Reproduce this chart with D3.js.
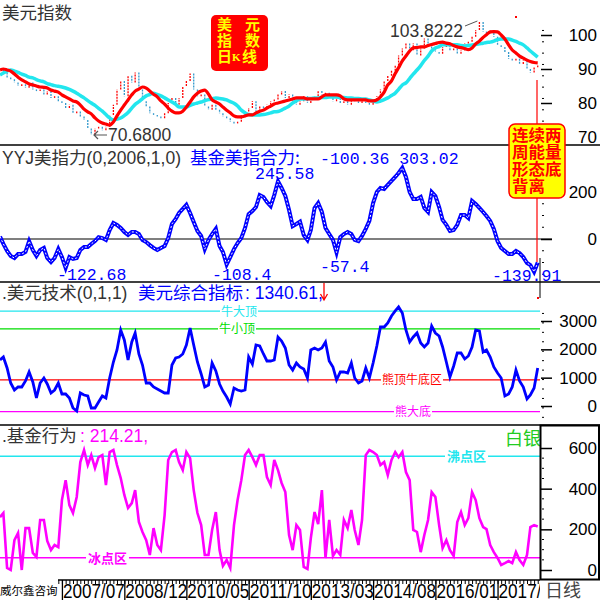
<!DOCTYPE html>
<html><head><meta charset="utf-8">
<script src="https://cdn.jsdelivr.net/npm/d3@7/dist/d3.min.js"></script>
<style>body{margin:0;background:#fff}svg{display:block}</style>
</head><body>
<svg id="c" width="600" height="600"></svg>
<script>
// ---------- DATA (monthly, starting Feb 2006) ----------
const firstMonth = "2006-02";
const dxyClose = [90.0,89.0,87.5,87.0,86.0,85.0,85.5,84.5,86.0,84.0,
83.5,84.0,82.5,83.5,81.5,82.0,80.5,80.0,78.5,79.5,
77.0,77.5,76.0,75.0,72.5,70.68,72.5,73.0,72.0,73.0,
76.5,79.5,84.0,86.5,82.0,88.0,86.0,89.0,84.0,80.5,
79.0,77.0,76.5,76.0,75.5,77.0,80.0,81.5,79.5,81.5,
85.0,86.5,88.7,84.0,82.0,82.5,79.0,78.0,79.5,78.0,
77.0,76.0,75.5,74.5,74.0,74.5,76.5,77.5,78.5,80.5,
77.5,79.0,78.5,79.5,80.5,81.0,82.5,83.5,81.5,82.5,
80.5,79.5,80.5,82.0,80.0,81.0,82.0,83.5,82.5,83.0,
81.5,80.5,81.5,80.0,80.5,79.5,81.5,80.5,80.0,80.5,
80.0,79.5,80.0,82.0,84.0,86.5,88.0,89.5,91.0,94.0,
96.0,97.5,95.5,97.5,94.0,96.0,99.0,97.5,96.0,95.0,
94.5,96.5,97.0,95.5,96.0,94.5,95.5,97.5,98.0,99.5,
101.5,103.8222,101.0,100.5,101.5,99.5,97.0,96.5,95.0,93.0,
92.5,93.0,91.5,92.5,90.0,89.0,90.5,91.0];
const dxyMaFast = [89.7,90.0,89.7,89.4,88.5,87.6,86.8,86.2,85.6,85.3,
85.0,84.7,84.6,84.4,83.8,83.5,83.2,82.4,81.8,81.2,
80.6,80.3,79.4,78.2,77.4,76.8,75.6,74.7,74.1,73.8,
73.5,74.4,76.2,77.9,79.4,80.9,82.4,83.5,84.1,84.7,
84.4,83.5,82.6,81.8,80.6,79.7,78.5,77.6,77.1,77.1,
77.6,78.8,80.3,81.8,82.9,83.5,83.8,82.6,80.9,80.3,
79.7,78.8,77.9,77.1,76.2,75.9,75.9,76.2,76.5,76.5,
77.1,77.6,77.9,78.5,79.1,79.7,80.0,80.3,80.6,80.9,
81.2,81.5,81.5,81.5,81.2,81.2,81.2,81.2,81.8,82.4,
82.4,82.4,82.4,82.1,81.2,80.9,80.9,80.9,80.9,80.9,
80.9,80.6,80.6,80.9,81.8,83.2,85.3,86.5,88.7,90.4,
92.4,93.8,95.3,96.2,96.3,96.5,96.5,96.9,97.2,97.5,
97.8,97.9,97.6,97.4,96.9,96.5,96.3,96.0,95.7,96.2,
97.4,98.2,99.3,100.1,100.9,101.0,100.9,100.0,98.8,97.1,
95.6,94.7,93.8,93.2,92.6,92.2,91.9,91.8];
const dxyMaSlow = [88.2,88.8,89.4,89.7,89.4,89.0,88.5,88.1,87.6,87.4,
86.9,86.5,86.2,85.7,85.4,85.1,84.9,84.7,84.4,84.0,
83.5,82.9,82.2,81.5,80.7,80.0,79.3,78.4,77.6,76.6,
75.6,75.0,75.3,75.6,76.3,77.2,78.5,79.6,80.4,81.3,
82.1,82.5,82.9,82.5,82.1,81.5,80.9,80.3,79.6,78.8,
78.8,78.8,79.3,79.7,80.0,80.3,80.7,81.0,81.2,81.5,
81.3,81.2,80.9,80.4,79.9,79.1,77.9,77.1,76.6,76.5,
76.5,76.5,76.6,76.8,77.1,77.4,77.5,77.9,78.5,79.1,
80.0,80.6,81.2,81.2,81.3,81.3,81.5,81.5,81.6,81.6,
81.8,81.8,81.8,81.6,81.6,81.5,81.5,81.3,81.3,81.2,
81.2,80.9,80.6,80.3,80.6,81.0,81.5,82.2,82.9,84.0,
85.3,85.9,87.2,88.5,89.7,91.0,92.5,93.8,95.3,96.2,
96.6,97.1,97.1,97.1,97.1,97.1,96.9,96.8,96.9,97.1,
97.2,97.4,97.6,97.8,97.9,98.2,98.7,98.8,98.8,98.8,
98.5,98.1,97.6,97.1,96.2,95.3,94.4,93.5];
const yyjForce = [10,-21,-51,-72,-81,-64,-64,-55,-9,-47,
-72,-47,-38,-81,-98,-81,-43,-77,-122.68,-77,
-85,-81,-47,-34,-34,-21,-9,8,4,-4,
38,68,60,47,30,17,30,30,21,-4,
-13,-26,-38,-47,-38,-30,4,64,85,111,
128,145,111,72,34,13,-43,-4,21,43,
-30,-55,-108.4,-77,-43,-17,4,47,106,119,
136,187,179,157,140,187,245.58,217,183,123,
55,64,74,17,-4,38,132,153,115,47,
21,-4,-57.4,8,21,30,21,-4,-9,13,
43,77,153,200,217,213,230,247,264,281,
303.02,264,200,170,170,179,132,115,200,183,
136,81,60,34,38,60,102,102,89,162,
149,132,115,98,77,43,-9,-38,-51,-64,
-64,-51,-60,-77,-102,-111,-139.91,-100.36];
const usdComposite = [1624,1730,1341,812,565,671,671,883,1200,847,
282,812,988,777,459,565,812,424,424,282,
-71,-177,459,388,353,-71,-71,141,353,282,
988,1553,1977,2683,2330,1624,2259,2577,1836,1447,
812,812,671,600,530,459,459,1447,1694,1730,
1836,2153,2753,2153,1553,1130,671,741,1518,1236,
777,530,318,71,635,565,530,565,1730,1483,
2153,2118,1836,1589,1589,1624,2436,2295,2047,1447,
1271,1518,1377,1306,988,1977,2047,1977,2047,2259,
1589,1377,918,1200,1200,1165,1518,988,812,883,
1341,988,1518,2118,2789,2789,2930,3177,3354,3495,
3283,2683,2259,2436,2577,2224,2083,2224,2824,2577,
2471,2083,1553,1024,1412,1871,1871,1659,1765,2083,
2683,2648,1906,1977,1730,1377,1165,988,353,424,
671,1271,883,671,247,388,635,1340.61];
const fundBehavior = [260,280,10,0,147,182,0,206,206,84,
64,246,246,143,98,123,113,344,442,319,
280,359,531,590,516,565,501,555,565,418,
580,590,516,452,369,305,329,393,236,187,
147,74,206,123,98,270,541,580,590,531,
491,580,550,393,280,221,74,74,197,285,
98,20,49,10,221,344,442,565,590,555,
516,565,565,457,418,541,491,428,383,172,
98,221,197,15,5,157,285,226,393,59,
246,69,98,74,246,206,295,197,123,246,
565,590,580,565,516,531,467,541,580,555,
580,482,442,197,187,88,172,246,383,359,
221,108,147,98,69,236,285,221,255,383,
344,255,211,201,123,88,59,25,34,44,
34,88,49,25,74,211,221,214.21];

const xTickLabels = ["2007/07","2008/12","2010/05","2011/10","2013/03","2014/08","2016/01","2017/06"];
const dxyTicks = [70,80,90,100];
const forceTicks = [0,200];
const compositeTicks = [0,1000,2000,3000];
const fundTicks = [0,200,400,600];
const compositeLevelNames = ["牛大顶","牛小顶","熊顶牛底区","熊大底"];
const compositeLevelValues = [3350,2720,920,-200];
const fundLevelNames = ["沸点区","冰点区"];
const fundLevelValues = [560,60];

// ---------- SETUP ----------
const svg = d3.select('#c');
const W = 540;
const LAT = "'Liberation Sans','Noto Sans CJK SC',sans-serif";
const CJK = "'Noto Sans CJK SC','Liberation Sans',sans-serif";
const MONO = "'Liberation Mono','DejaVu Sans Mono',monospace";
const C = {red:'#ff0000', cyan:'#22e6ee', blue:'#0000ff', magenta:'#ff00ff', green:'#00cc00', candleDown:'#3399cc', text:'#333'};

const parseMonth = d3.timeParse("%Y-%m");
const t0 = parseMonth(firstMonth);
const dates = dxyClose.map((_, i) => d3.timeMonth.offset(t0, i));
const x = d3.scaleTime().domain([t0, new Date(2018,4,20)]).range([0, W]);

const y1 = d3.scaleLinear().domain([70,100]).range([137,35]);
const y2 = d3.scaleLinear().domain([0,200]).range([239,192]);
const y3 = d3.scaleLinear().domain([0,3000]).range([406,321]);
const y4 = d3.scaleLinear().domain([0,600]).range([570,448]);

const panels = [[0,145],[145,282],[282,425],[425,580]];
const defs = svg.append('defs');
panels.forEach((p,i)=>defs.append('clipPath').attr('id','clip'+i)
  .append('rect').attr('x',0).attr('y',p[0]).attr('width',W).attr('height',p[1]-p[0]));
defs.append('clipPath').attr('id','clipX').append('rect').attr('x',0).attr('y',578).attr('width',W).attr('height',22);

function txt(g, xx, yy, s, size, fill, fam, extra) {
  const t = g.append('text').attr('x',xx).attr('y',yy).text(s)
    .attr('font-size',size).attr('fill',fill).attr('font-family',fam||CJK);
  if (extra) extra(t);
  return t;
}

// ---------- Separators ----------
[145,282,425].forEach(yy => svg.append('line').attr('x1',0).attr('x2',600).attr('y1',yy).attr('y2',yy)
  .attr('stroke','#000').attr('stroke-width',1.5));

// ---------- Right axes ----------
function rightAxis(scale, ticks, minorStep, lo, hi) {
  const g = svg.append('g').attr('transform','translate(541,0)');
  g.call(d3.axisRight(scale).tickValues(ticks).tickSize(11).tickFormat(''));
  g.select('.domain').remove();
  g.selectAll('.tick line').attr('stroke','#000').attr('stroke-width',1.5);
  const minors = d3.range(lo, hi, minorStep).filter(v => !ticks.some(t => Math.abs(t-v) < 1e-6));
  g.selectAll('.minor').data(minors).join('line').attr('class','minor')
    .attr('x1',1).attr('x2',3).attr('y1',d=>scale(d)).attr('y2',d=>scale(d))
    .attr('stroke','#000').attr('stroke-width',1);
  svg.append('g').selectAll('text').data(ticks).join('text')
    .attr('x',597).attr('y',d=>scale(d)+6).attr('text-anchor','end')
    .attr('font-family',LAT).attr('font-size',17).attr('fill','#000').text(d=>d);
}
rightAxis(y1, dxyTicks, 10/3, 68, 104);
rightAxis(y2, forceTicks, 50, -150, 380);
rightAxis(y3, compositeTicks, 1000/3, -400, 3600);
rightAxis(y4, fundTicks, 50, 0, 650);

// ---------- Panel 1: DXY ----------
const p1 = svg.append('g').attr('clip-path','url(#clip0)');
p1.selectAll('line.candle').data(dxyClose.slice(1)).join('line').attr('class','candle')
  .attr('x1',(d,i)=>x(dates[i+1])).attr('x2',(d,i)=>x(dates[i+1]))
  .attr('y1',(d,i)=>y1(dxyClose[i])).attr('y2',d=>y1(d))
  .attr('stroke',(d,i)=> d >= dxyClose[i] ? C.red : C.candleDown).attr('stroke-width',1.3)
  .attr('stroke-dasharray','2,1');
p1.append('path').datum(dxyMaSlow).attr('fill','none').attr('stroke',C.cyan).attr('stroke-width',3.5)
  .attr('d', d3.line().x((d,i)=>x(dates[i])).y(d=>y1(d)).curve(d3.curveMonotoneX));
p1.append('path').datum(dxyMaFast).attr('fill','none').attr('stroke',C.red).attr('stroke-width',3.2)
  .attr('d', d3.line().x((d,i)=>x(dates[i])).y(d=>y1(d)).curve(d3.curveMonotoneX));

txt(svg, 2, 19, '美元指数', 17.5, C.text);
// red box
svg.append('rect').attr('x',211).attr('y',15).attr('width',57).attr('height',56).attr('rx',5).attr('fill',C.red);
const yb = g => g.attr('font-weight','bold');
txt(svg,217,30,'美',15,'#ffff00',CJK,yb); txt(svg,245,30,'元',15,'#ffff00',CJK,yb);
txt(svg,217,46,'指',15,'#ffff00',CJK,yb); txt(svg,245,46,'数',15,'#ffff00',CJK,yb);
txt(svg,217,62,'日',15,'#ffff00',CJK,yb); txt(svg,232,61,'K',11,'#ffff00',"'Liberation Serif',serif",yb); txt(svg,242,62,'线',15,'#ffff00',CJK,yb);
// high / low annotations
const iMax = d3.maxIndex(dxyClose), iMin = d3.minIndex(dxyClose);
txt(svg, 390, 37, d3.format('.4f')(dxyClose[iMax]), 17.5, C.text, LAT);
svg.append('line').attr('x1',465).attr('y1',26).attr('x2',x(dates[iMax])-2).attr('y2',y1(dxyClose[iMax])-1)
  .attr('stroke','#555').attr('stroke-width',1);
txt(svg, 108, 141, d3.format('.4f')(dxyClose[iMin]), 17.5, C.text, LAT);
svg.append('path').attr('d','M107,135 H94 M98,131 L94,135 L98,139').attr('fill','none').attr('stroke','#555').attr('stroke-width',1.2);

// ---------- Panel 2 ----------
svg.append('line').attr('x1',0).attr('x2',552).attr('y1',y2(0)).attr('y2',y2(0)).attr('stroke','#000').attr('stroke-width',1.2);
const p2 = svg.append('g').attr('clip-path','url(#clip1)');
const l2 = d3.line().x((d,i)=>x(dates[i])).y(d=>y2(d));
p2.append('path').datum(yyjForce).attr('fill','none').attr('stroke',C.blue).attr('stroke-width',4).attr('d',l2);
p2.append('path').datum(yyjForce).attr('fill','none').attr('stroke','#fff').attr('stroke-width',1).attr('stroke-dasharray','2,2').attr('d',l2);

txt(svg, 2, 164, 'YYJ美指力(0,2006,1,0)', 17.5, C.text, LAT);
txt(svg, 190, 164, '基金美指合力:', 17.5, C.blue, CJK);
const last2 = yyjForce[yyjForce.length-1];
txt(svg, 320, 164, `${last2.toFixed(2)} ${d3.max(yyjForce).toFixed(2)}`, 16.5, C.blue, MONO);
const f2 = v => String(v);
[[76,255,179],[18,57,280],[62,212,280],[92,320,272],[146,492,281]].forEach(([i,xx,yy]) =>
  txt(svg, xx, yy, f2(yyjForce[i]), 16.5, C.blue, MONO));

// ---------- Panel 3 ----------
const levelColors3 = ['#22e6ee','#00dd00','#ff0000','#ff00ff'];
const levelLabelX3 = [221,219,382,395];
const p3 = svg.append('g').attr('clip-path','url(#clip2)');
compositeLevelValues.forEach((v,k)=> p3.append('line').attr('x1',0).attr('x2',W).attr('y1',y3(v)).attr('y2',y3(v))
  .attr('stroke',levelColors3[k]).attr('stroke-width',1.3));
p3.append('path').datum(usdComposite).attr('fill','none').attr('stroke',C.blue).attr('stroke-width',2.8)
  .attr('d', d3.line().x((d,i)=>x(dates[i])).y(d=>y3(d)));
compositeLevelNames.forEach((s,k)=>{
  const t = txt(svg, levelLabelX3[k], y3(compositeLevelValues[k])+4.5, s, 12, levelColors3[k], CJK);
  const b = t.node().getBBox();
  svg.insert('rect', () => t.node()).attr('x',b.x-1).attr('y',y3(compositeLevelValues[k])-4).attr('width',b.width+2).attr('height',8).attr('fill','#fff');
});
txt(svg, 2, 299, '.美元技术(0,1,1)', 17.5, C.text, LAT);
txt(svg, 138, 299, '美元综合指标', 17.5, C.blue, CJK);
txt(svg, 245, 299, `: ${usdComposite[usdComposite.length-1]},`, 17.5, C.blue, LAT);
svg.append('path').attr('d','M324,283 V300 M320.5,294 L324,300 L327.5,294').attr('fill','none').attr('stroke',C.red).attr('stroke-width',1.3);

// ---------- Panel 4 ----------
const levelColors4 = ['#22e6ee','#ff00ff'];
const levelLabelX4 = [447,88];
const p4 = svg.append('g').attr('clip-path','url(#clip3)');
fundLevelValues.forEach((v,k)=> p4.append('line').attr('x1',0).attr('x2',W).attr('y1',y4(v)).attr('y2',y4(v))
  .attr('stroke',levelColors4[k]).attr('stroke-width',1.5));
p4.append('path').datum(fundBehavior).attr('fill','none').attr('stroke',C.magenta).attr('stroke-width',2.6)
  .attr('d', d3.line().x((d,i)=>x(dates[i])).y(d=>y4(d)));
fundLevelNames.forEach((s,k)=>{
  const t = txt(svg, levelLabelX4[k], y4(fundLevelValues[k])+5, s, 13, levelColors4[k], CJK, g=>g.attr('font-weight','bold'));
  const b = t.node().getBBox();
  svg.insert('rect', () => t.node()).attr('x',b.x-2).attr('y',y4(fundLevelValues[k])-4).attr('width',b.width+4).attr('height',8).attr('fill','#fff');
});
txt(svg, 2, 442, '.基金行为', 17.5, C.text, LAT);
txt(svg, 80, 442, `: ${fundBehavior[fundBehavior.length-1]},`, 17.5, C.magenta, LAT);
txt(svg, 505, 445, '白银', 18, '#22cc22', CJK);
svg.append('rect').attr('x',540.5).attr('y',425.5).attr('width',58.5).attr('height',154).attr('fill','none').attr('stroke','#000').attr('stroke-width',2);

// ---------- Signal box ----------
svg.append('line').attr('x1',537).attr('x2',537).attr('y1',80).attr('y2',124).attr('stroke',C.red).attr('stroke-width',1.2);
svg.append('line').attr('x1',537).attr('x2',537).attr('y1',198).attr('y2',262).attr('stroke',C.red).attr('stroke-width',1.2);
svg.append('line').attr('x1',540).attr('x2',540).attr('y1',258).attr('y2',298).attr('stroke','#000').attr('stroke-width',1);
svg.append('rect').attr('x',515).attr('y',16).attr('width',2).attr('height',2).attr('fill',C.red);
svg.append('rect').attr('x',537).attr('y',297).attr('width',2).attr('height',2).attr('fill',C.red);
svg.append('rect').attr('x',509).attr('y',124).attr('width',56).attr('height',74).attr('rx',6)
  .attr('fill','#ffff00').attr('stroke',C.red).attr('stroke-width',1.5);
['连续两','周能量','形态底','背离'].forEach((s,k)=> txt(svg, 512, 141+k*17, s, 16, C.red, CJK,
  g=>g.attr('font-weight','bold').attr('textLength', s.length*16.5).attr('lengthAdjust','spacingAndGlyphs')));

// ---------- X axis ----------
const tickDates = xTickLabels.map(s => d3.timeParse("%Y/%m")(s));
svg.append('line').attr('x1',58).attr('x2',W).attr('y1',580).attr('y2',580).attr('stroke','#000').attr('stroke-width',1.5);
const gx = svg.append('g').attr('transform','translate(0,580)');
gx.call(d3.axisBottom(x).tickValues(tickDates).tickSize(20).tickFormat(''));
gx.select('.domain').remove();
gx.selectAll('.tick line').attr('stroke','#000').attr('stroke-width',1.3);
const gm = svg.append('g').attr('transform','translate(0,580)');
gm.call(d3.axisBottom(x).tickValues(dates.filter(d => x(d) >= 58)).tickSize(4).tickFormat(''));
gm.select('.domain').remove();
gm.selectAll('.tick line').attr('stroke','#000');
const gl = svg.append('g').attr('clip-path','url(#clipX)');
gl.selectAll('text').data(tickDates).join('text')
  .attr('x', d => x(d)+1).attr('y',598).text((d,i)=>xTickLabels[i])
  .attr('font-family',LAT).attr('font-size',21).attr('fill','#000')
  .attr('textLength',62).attr('lengthAdjust','spacingAndGlyphs');
txt(svg, 0, 595, '威尔鑫咨询', 11.5, '#000', CJK);
txt(svg, 545, 597, '日线', 18, '#444', CJK);
</script>
</body></html>
